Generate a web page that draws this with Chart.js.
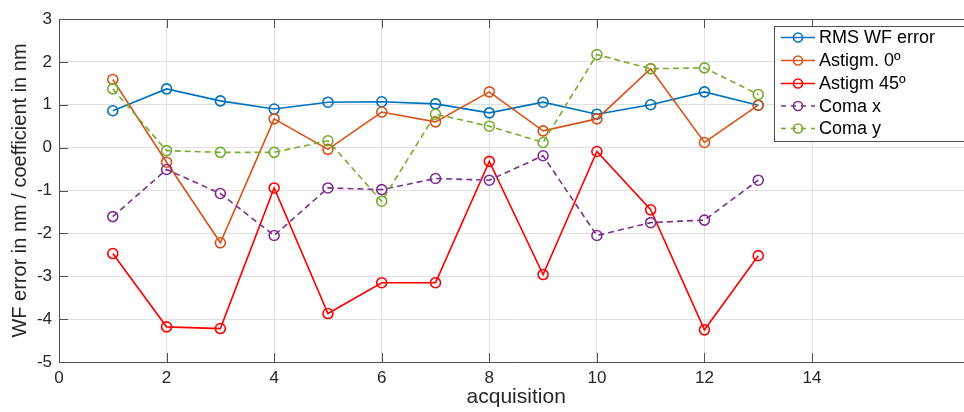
<!DOCTYPE html>
<html>
<head>
<meta charset="utf-8">
<script src="https://cdn.jsdelivr.net/npm/chart.js@4/dist/chart.umd.min.js"></script>
<style>
html,body{margin:0;padding:0;overflow:hidden;background:#fff;width:964px;height:412px;}
canvas{display:block;}
</style>
</head>
<body>
<canvas id="c" width="980" height="412" style="width:980px;height:412px"></canvas>
<script>
// ---- data ----
const acquisitions = [1,2,3,4,5,6,7,8,9,10,11,12,13];
const rmsWF   = [0.86,1.37,1.09,0.90,1.06,1.07,1.02,0.81,1.06,0.78,1.00,1.30,0.99];
const astig0  = [1.59,-0.34,-2.22,0.67,-0.04,0.83,0.60,1.30,0.39,0.67,1.84,0.12,0.99];
const astig45 = [-2.47,-4.18,-4.22,-0.94,-3.87,-3.15,-3.15,-0.32,-2.96,-0.09,-1.45,-4.25,-2.52];
const comaX   = [-1.61,-0.51,-1.07,-2.05,-0.94,-0.98,-0.72,-0.76,-0.19,-2.05,-1.75,-1.69,-0.76];
const comaY   = [1.37,-0.07,-0.11,-0.11,0.16,-1.25,0.78,0.50,0.12,2.17,1.84,1.86,1.24];
const seriesLabels = ['RMS WF error','Astigm. 0º','Astigm 45º','Coma x','Coma y'];
const xTicks = [0,2,4,6,8,10,12,14];
const yTicks = [-5,-4,-3,-2,-1,0,1,2,3];
const xLabel = 'acquisition';
const yLabel = 'WF error in nm / coefficient in nm';

const colors = ['#0072BD','#D95319','#FF0000','#7E2F8E','#77AC30'];
const dashed = [false,false,false,true,true];
const seriesValues = [rmsWF, astig0, astig45, comaX, comaY];
const FONT = '"Liberation Sans", Arial, Helvetica, sans-serif';
const TEXT = '#262626';
const AXIS = '#505050';
const GRID = 'rgb(224,224,224)';
const DASH = [6,4];

const datasets = seriesValues.map((vals, i) => ({
  label: seriesLabels[i],
  data: acquisitions.map((a, j) => ({x: a, y: vals[j]})),
  borderColor: colors[i],
  backgroundColor: 'rgba(0,0,0,0)',
  borderWidth: 1.6,
  borderDash: dashed[i] ? DASH : [],
  pointStyle: 'circle',
  pointRadius: 5,
  pointHoverRadius: 5,
  pointBorderWidth: 1.6,
  pointBorderColor: colors[i],
  pointBackgroundColor: 'rgba(0,0,0,0)',
  tension: 0,
  fill: false,
  order: 10 - i
}));

const frame = {
  id: 'frame',
  beforeDatasetsDraw(chart) {
    const {ctx, chartArea: a, scales: {x, y}} = chart;
    ctx.save();
    ctx.strokeStyle = AXIS;
    ctx.lineWidth = 1;
    ctx.beginPath();
    ctx.moveTo(a.left, Math.round(a.top) + 0.5);
    ctx.lineTo(a.right, Math.round(a.top) + 0.5);
    const tl = 9;
    xTicks.forEach(v => {
      const px = Math.round(x.getPixelForValue(v)) + 0.5;
      ctx.moveTo(px, a.bottom); ctx.lineTo(px, a.bottom - tl);
      ctx.moveTo(px, a.top); ctx.lineTo(px, a.top + tl);
    });
    yTicks.forEach(v => {
      const py = Math.round(y.getPixelForValue(v)) + 0.5;
      ctx.moveTo(a.left, py); ctx.lineTo(a.left + tl, py);
    });
    ctx.stroke();
    ctx.restore();
  },
  afterDraw(chart) {
    const {ctx} = chart;
    ctx.save();
    const bx = 774.5, by = 26.5, bw = 193, bh = 115;
    ctx.fillStyle = '#fff';
    ctx.fillRect(bx, by, bw, bh);
    ctx.strokeStyle = AXIS;
    ctx.lineWidth = 1;
    ctx.strokeRect(bx, by, bw, bh);
    const rows = [37.5, 60.5, 83.5, 106, 128.5];
    ctx.font = '18px ' + FONT;
    ctx.textBaseline = 'middle';
    ctx.textAlign = 'left';
    chart.data.datasets.forEach((ds, i) => {
      const yy = rows[i];
      ctx.strokeStyle = ds.borderColor;
      ctx.lineWidth = 1.6;
      ctx.setLineDash(dashed[i] ? [5,5] : []);
      ctx.beginPath();
      ctx.moveTo(781, yy); ctx.lineTo(815, yy);
      ctx.stroke();
      ctx.setLineDash([]);
      ctx.beginPath();
      ctx.arc(798, yy, 4.5, 0, Math.PI * 2);
      ctx.stroke();
      ctx.fillStyle = '#000';
      ctx.fillText(ds.label, 819, yy + 1);
    });
    ctx.restore();
  }
};

new Chart(document.getElementById('c'), {
  type: 'line',
  data: {datasets},
  options: {
    responsive: false,
    animation: false,
    devicePixelRatio: 1,
    layout: {padding: {top: 19, right: 6, left: 0, bottom: 0}},
    plugins: {legend: {display: false}, tooltip: {enabled: false}},
    scales: {
      x: {
        type: 'linear', min: 0, max: 17,
        afterFit(s) { s.height = 50; },
        afterBuildTicks(s) { s.ticks = xTicks.map(v => ({value: v})); },
        grid: {color: GRID, lineWidth: 1, drawTicks: false},
        border: {display: true, color: AXIS, width: 1},
        ticks: {color: TEXT, font: {family: FONT, size: 17}, padding: 6, maxRotation: 0, autoSkip: false},
        title: {display: true, text: xLabel, color: TEXT, font: {family: FONT, size: 21}, padding: {top: 0, bottom: 2}}
      },
      y: {
        type: 'linear', min: -5, max: 3,
        afterFit(s) { s.width = 59; },
        afterBuildTicks(s) { s.ticks = yTicks.map(v => ({value: v})); },
        grid: {color: GRID, lineWidth: 1, drawTicks: false},
        border: {display: true, color: AXIS, width: 1},
        ticks: {color: TEXT, font: {family: FONT, size: 17}, padding: 7, autoSkip: false},
        title: {display: true, text: yLabel, color: TEXT, font: {family: FONT, size: 20}, padding: {top: 8, bottom: 0}}
      }
    }
  },
  plugins: [frame]
});
</script>
</body>
</html>
